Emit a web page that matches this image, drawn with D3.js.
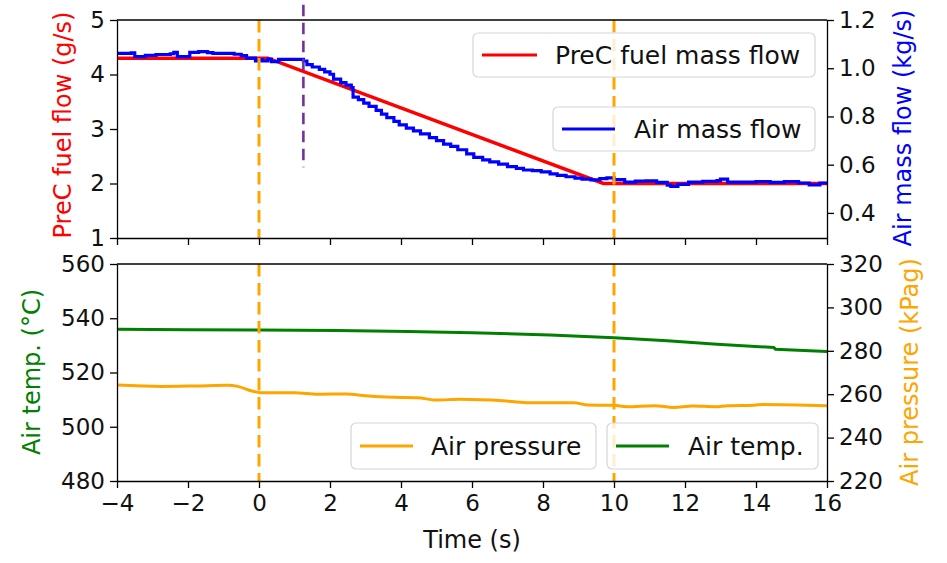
<!DOCTYPE html>
<html><head><meta charset="utf-8">
<script src="https://cdn.jsdelivr.net/npm/d3@7"></script>
<style>
html,body{margin:0;padding:0;background:#fff;}
svg{display:block;font-family:"DejaVu Sans",sans-serif;}
</style></head>
<body><svg id="c" width="947" height="563"></svg>
<script>
// ---- data ----
const fuelT = [-4, 0.25, 9.7, 16];
const fuelV = [4.3, 4.3, 2.0, 2.0];

const airT = [-4.0,-3.6,-3.5,-3.2,-2.9,-2.5,-2.4,-2.3,-1.95,-1.7,-1.45,-1.3,-0.7,-0.5,-0.35,-0.1,0.0,0.1,0.25,0.35,0.55,
  1.25,1.35,1.5,1.7,1.85,2.0,2.1,2.3,2.45,2.6,2.65,2.8,2.95,3.1,3.3,3.45,3.6,3.8,3.95,4.15,4.35,4.55,4.8,5.0,5.2,5.4,5.6,
  5.85,6.05,6.3,6.5,6.75,7.0,7.25,7.45,7.7,7.95,8.2,8.4,8.65,8.9,9.1,9.35,9.6,9.8,10.0,10.3,10.6,10.9,11.2,11.5,11.6,11.8,
  12.1,12.5,12.9,13.0,13.2,13.6,14.0,14.4,14.8,15.2,15.5,15.8,16.0];
const airV = [1.062,1.064,1.048,1.053,1.057,1.060,1.066,1.048,1.066,1.069,1.065,1.062,1.058,1.052,1.042,1.030,1.036,1.030,1.038,1.027,1.037,
  1.030,1.015,1.005,0.995,0.985,0.975,0.955,0.940,0.930,0.920,0.880,0.870,0.855,0.842,0.825,0.810,0.795,0.780,0.765,0.752,0.740,0.728,0.712,0.700,0.685,0.676,0.662,
  0.645,0.630,0.620,0.612,0.602,0.592,0.585,0.578,0.575,0.570,0.562,0.556,0.550,0.544,0.540,0.537,0.542,0.545,0.538,0.528,0.532,0.533,0.527,0.515,0.510,0.518,
  0.528,0.531,0.534,0.540,0.528,0.528,0.530,0.527,0.530,0.524,0.516,0.524,0.526];

const tempT = [-4, -2, 0, 2.2, 4.2, 6.0, 8.2, 10, 11.5, 12.9, 14.5, 14.55, 16];
const tempV = [535.9, 535.8, 535.7, 535.5, 535.1, 534.7, 533.8, 532.8, 531.7, 530.4, 529.2, 528.6, 527.7];

const presT = [-4,-2.75,-1.8,-0.87,-0.6,-0.2,0.05,1.0,1.66,2.46,3.0,3.8,4.46,5.0,5.66,6.87,7.54,8.87,9.27,10.0,10.35,11.14,11.68,12.21,12.87,13.2,13.94,14.2,16];
const presV = [264.2,263.6,263.8,264.1,263.6,261.5,260.7,260.7,260.0,260.1,259.3,258.6,258.4,257.3,257.7,257.0,256.1,256.1,255.0,254.9,254.2,254.7,253.9,254.6,254.2,254.7,254.9,255.3,254.7];

const xTicks = [-4,-2,0,2,4,6,8,10,12,14,16];
const fuelTicks = [1,2,3,4,5];
const airTicks = [0.4,0.6,0.8,1.0,1.2];
const tempTicks = [480,500,520,540,560];
const presTicks = [220,240,260,280,300,320];
const eventT = [0, 10];
const markT = 1.25;

// ---- layout ----
const svg = d3.select("#c");
const L = 117, R = 827;
const top1 = 20, bot1 = 238, top2 = 264, bot2 = 481;
const FS = "23px";

const x = d3.scaleLinear().domain([-4,16]).range([L,R]);
const yFuel = d3.scaleLinear().domain([1,5]).range([bot1,top1]);
const yAir = d3.scaleLinear().domain([0.296,1.2]).range([bot1,top1]);
const yTemp = d3.scaleLinear().domain([480,560]).range([bot2,top2]);
const yPres = d3.scaleLinear().domain([220,320]).range([bot2,top2]);

const defs = svg.append("defs");
defs.append("clipPath").attr("id","cp1").append("rect").attr("x",L).attr("y",top1).attr("width",R-L).attr("height",bot1-top1);
defs.append("clipPath").attr("id","cp2").append("rect").attr("x",L).attr("y",top2).attr("width",R-L).attr("height",bot2-top2);

function styleAxis(g){
  g.selectAll("path.domain").attr("stroke","#000").attr("stroke-width",1.3);
  g.selectAll(".tick line").attr("stroke","#000").attr("stroke-width",1.3);
  g.selectAll(".tick text").attr("fill","#111").style("font-size",FS).style("font-family","DejaVu Sans");
}

// ---- lines ----
const line = (xs, ys, tx, ty, curve) => d3.line().curve(curve||d3.curveLinear)
  .x((d,i)=>xs(tx[i])).y((d,i)=>ys(d));

const g1 = svg.append("g").attr("clip-path","url(#cp1)");
g1.append("path").datum(fuelV).attr("d", line(x,yFuel,fuelT)).attr("fill","none").attr("stroke","#ff0000").attr("stroke-width",3.5);
g1.append("path").datum(airV).attr("d", line(x,yAir,airT,null,d3.curveStepAfter)).attr("fill","none").attr("stroke","#0000ff").attr("stroke-width",3.2);

const g2 = svg.append("g").attr("clip-path","url(#cp2)");
g2.append("path").datum(presV).attr("d", line(x,yPres,presT,null,d3.curveMonotoneX)).attr("fill","none").attr("stroke","#ffa500").attr("stroke-width",3);
g2.append("path").datum(tempV).attr("d", line(x,yTemp,tempT)).attr("fill","none").attr("stroke","#008000").attr("stroke-width",3);

// vertical event lines
eventT.forEach(t=>{
  [[top1,bot1],[top2,bot2]].forEach(([a,b])=>{
    svg.append("line").attr("x1",x(t)).attr("x2",x(t)).attr("y1",a).attr("y2",b)
      .attr("stroke","#ffa500").attr("stroke-width",3).attr("stroke-dasharray","12.5,6.5");
  });
});
svg.append("line").attr("x1",x(markT)).attr("x2",x(markT)).attr("y1",yFuel(5.28)).attr("y2",yFuel(2.3))
  .attr("stroke","#7132a0").attr("stroke-width",2.6).attr("stroke-dasharray","11.5,6.5");

// ---- axes ----
const ax1b = svg.append("g").attr("transform",`translate(0,${bot1})`).call(d3.axisBottom(x).tickValues(xTicks).tickFormat("").tickSize(7).tickSizeOuter(0));
styleAxis(ax1b);
svg.append("line").attr("x1",L).attr("x2",R).attr("y1",top1).attr("y2",top1).attr("stroke","#000").attr("stroke-width",1.3);
const ax1l = svg.append("g").attr("transform",`translate(${L},0)`).call(d3.axisLeft(yFuel).tickValues(fuelTicks).tickFormat(d3.format("d")).tickSize(7).tickSizeOuter(0).tickPadding(5));
styleAxis(ax1l);
const ax1r = svg.append("g").attr("transform",`translate(${R},0)`).call(d3.axisRight(yAir).tickValues(airTicks).tickFormat(d3.format(".1f")).tickSize(7).tickSizeOuter(0).tickPadding(5));
styleAxis(ax1r);

const ax2b = svg.append("g").attr("transform",`translate(0,${bot2})`).call(d3.axisBottom(x).tickValues(xTicks).tickFormat(d3.format("d")).tickSize(7).tickSizeOuter(0).tickPadding(7));
styleAxis(ax2b);
svg.append("line").attr("x1",L).attr("x2",R).attr("y1",top2).attr("y2",top2).attr("stroke","#000").attr("stroke-width",1.3);
const ax2l = svg.append("g").attr("transform",`translate(${L},0)`).call(d3.axisLeft(yTemp).tickValues(tempTicks).tickFormat(d3.format("d")).tickSize(7).tickSizeOuter(0).tickPadding(5));
styleAxis(ax2l);
const ax2r = svg.append("g").attr("transform",`translate(${R},0)`).call(d3.axisRight(yPres).tickValues(presTicks).tickFormat(d3.format("d")).tickSize(7).tickSizeOuter(0).tickPadding(5));
styleAxis(ax2r);

// ---- axis labels ----
function vlabel(txt, cx, cy, color){
  svg.append("text").attr("transform",`translate(${cx},${cy}) rotate(-90)`)
    .attr("text-anchor","middle").attr("dominant-baseline","central")
    .style("font-size","24px").attr("fill",color).text(txt);
}
vlabel("PreC fuel flow (g/s)", 63, 125, "#ff0000");
vlabel("Air mass flow (kg/s)", 903, 128, "#0000ff");
vlabel("Air temp. (°C)", 32, 372, "#008000");
vlabel("Air pressure (kPag)", 910, 372, "#ffa500");
svg.append("text").attr("x",(L+R)/2).attr("y",548).attr("text-anchor","middle").style("font-size","24px").attr("fill","#111").text("Time (s)");

// ---- legends ----
function legend(x0,y0,w,h,lx1,lx2,tx,color,label){
  const g = svg.append("g");
  g.append("rect").attr("x",x0).attr("y",y0).attr("width",w).attr("height",h).attr("rx",5)
    .attr("fill","#fff").attr("fill-opacity",0.8).attr("stroke","#d6d6d6").attr("stroke-width",1.2);
  const cy = y0+h/2;
  g.append("line").attr("x1",lx1).attr("x2",lx2).attr("y1",cy).attr("y2",cy).attr("stroke",color).attr("stroke-width",3.2);
  g.append("text").attr("x",tx).attr("y",cy).attr("dominant-baseline","central").style("font-size","25px").attr("fill","#111").text(label);
}
legend(473,33,342,44,482,537,555,"#ff0000","PreC fuel mass flow");
legend(553,107,262,44,562,615,634,"#0000ff","Air mass flow");
legend(351,423,245,46,360,413,431,"#ffa500","Air pressure");
legend(607,423,211,46,616,669,688,"#008000","Air temp.");
</script></body></html>
